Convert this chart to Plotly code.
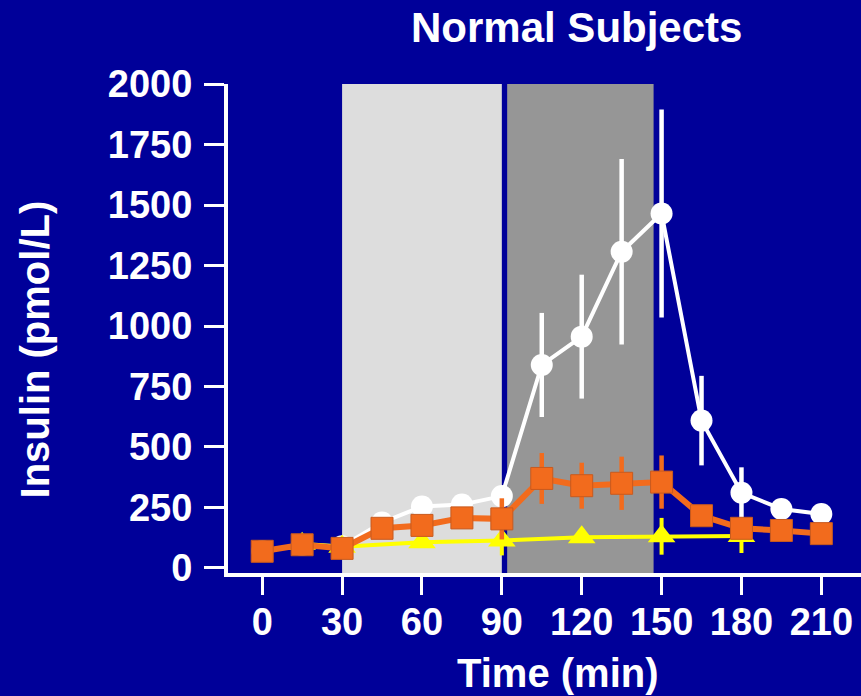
import plotly.graph_objects as go

# Sampling times (min)
time_all = [0, 15, 30, 45, 60, 75, 90, 105, 120, 135, 150, 165, 180, 195, 210]

# Insulin, white circles (pmol/L) and SEM
white_vals = [70, 95, 90, 188, 254, 262, 297, 839, 956, 1307, 1465, 609, 311, 244, 223]
white_err = [0, 0, 0, 0, 0, 0, 0, 215, 256, 383, 430, 185, 105, 0, 0]

# Insulin, orange squares (pmol/L) and SEM
orange_vals = [69, 96, 81, 164, 176, 207, 203, 370, 340, 350, 355, 216, 164, 155, 142]
orange_err = [0, 0, 0, 0, 0, 0, 85, 105, 95, 110, 110, 0, 0, 0, 0]

# Insulin, yellow triangles (pmol/L) and SEM
time_yellow = [15, 30, 60, 90, 120, 150, 180]
yellow_vals = [100, 88, 106, 114, 127, 131, 132]
yellow_err = [0, 0, 0, 62, 0, 76, 70]

# Shaded infusion periods (min)
period_light = [30, 90]
period_dark = [92, 147]

x_ticks = [0, 30, 60, 90, 120, 150, 180, 210]
y_ticks = [0, 250, 500, 750, 1000, 1250, 1500, 1750, 2000]

BG = "#000099"
FONT = "Liberation Sans, Arial, Helvetica, sans-serif"

fig = go.Figure()

fig.add_trace(go.Scatter(
    x=time_all, y=white_vals, mode="lines+markers",
    line=dict(color="white", width=4),
    marker=dict(symbol="circle", size=22, color="white"),
    error_y=dict(type="data", array=white_err, width=0, thickness=4.5, color="white"),
    showlegend=False,
))

fig.add_trace(go.Scatter(
    x=time_yellow, y=yellow_vals, mode="lines+markers",
    line=dict(color="#FFFF00", width=4),
    marker=dict(symbol="triangle-up", size=24, color="#FFFF00"),
    error_y=dict(type="data", array=yellow_err, width=0, thickness=4, color="#FFFF00"),
    showlegend=False,
))

fig.add_trace(go.Scatter(
    x=time_all, y=orange_vals, mode="lines+markers",
    line=dict(color="#F26B1D", width=6),
    marker=dict(symbol="square", size=22, color="#F26B1D",
                line=dict(color="#C85A1E", width=1)),
    error_y=dict(type="data", array=orange_err, width=0, thickness=4.5, color="#F26B1D"),
    showlegend=False,
))

fig.add_shape(type="rect", xref="x", yref="y", x0=period_light[0], x1=period_light[1],
              y0=-25, y1=2000, fillcolor="#DDDDDD", line=dict(width=0), layer="below")
fig.add_shape(type="rect", xref="x", yref="y", x0=period_dark[0], x1=period_dark[1],
              y0=-25, y1=2000, fillcolor="#969696", line=dict(width=0), layer="below")

axis_font = dict(family=FONT, size=38, color="white", weight="bold")

fig.update_xaxes(
    range=[-12.85, 224.9], tickvals=x_ticks, ticktext=[str(v) for v in x_ticks],
    showgrid=False, zeroline=False, showline=True, linecolor="white", linewidth=4,
    ticks="outside", ticklen=18, tickwidth=3, tickcolor="white",
    tickfont=axis_font, ticklabelstandoff=-6,
)
fig.update_yaxes(
    range=[-20.7, 2000], tickvals=y_ticks, ticktext=[str(v) for v in y_ticks],
    showgrid=False, zeroline=False, showline=True, linecolor="white", linewidth=4,
    ticks="outside", ticklen=20, tickwidth=3, tickcolor="white",
    tickfont=axis_font, ticklabelstandoff=4,
)

fig.update_layout(
    width=861, height=696,
    paper_bgcolor=BG, plot_bgcolor=BG,
    margin=dict(l=228, r=0, t=84, b=123, pad=0),
    annotations=[
        dict(text="<b>Normal Subjects</b>", xref="paper", yref="paper",
             x=0.5498, y=1.1155, xanchor="center", yanchor="middle", showarrow=False,
             font=dict(family=FONT, size=42, color="white")),
        dict(text="<b>Time (min)</b>", xref="paper", yref="paper",
             x=0.5213, y=-0.2045, xanchor="center", yanchor="middle", showarrow=False,
             font=dict(family=FONT, size=40, color="white")),
        dict(text="<b>Insulin (pmol/L)</b>", xref="paper", yref="paper",
             x=-0.305, y=0.457, xanchor="center", yanchor="middle", showarrow=False,
             textangle=-90, font=dict(family=FONT, size=40, color="white")),
    ],
)

fig.write_html("out.html")
